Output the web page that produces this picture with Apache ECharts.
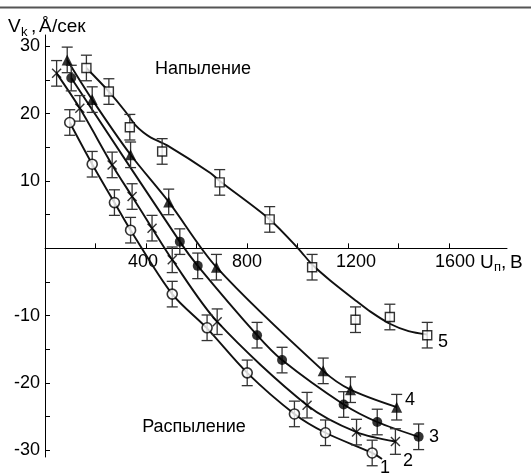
<!DOCTYPE html>
<html>
<head>
<meta charset="utf-8">
<script src="https://cdn.jsdelivr.net/npm/echarts@6/dist/echarts.min.js"></script>
<style>
html,body{margin:0;padding:0;background:#fff}
#main{width:531px;height:475px}
</style>
</head>
<body>
<div id="main"></div>
<script>
// measured points, [U (B), V (A/sec)]
var pts1 = [[98,18.7],[187,12.5],[275,6.8],[339,2.7],[504,-6.8],[642,-11.8],[801,-18.5],[988,-24.6],[1111,-27.4],[1296,-30.4]];
var pts2 = [[46,26.0],[138,20.8],[266,12.4],[345,7.7],[424,3.0],[504,-1.7],[682,-10.9],[1038,-23.3],[1234,-27.3],[1388,-28.7]];
var pts3 = [[104,25.3],[534,1.0],[605,-2.6],[840,-12.9],[939,-16.6],[1183,-23.2],[1316,-25.8],[1480,-28.0]];
var pts4 = [[88,28.0],[187,22.1],[339,13.9],[490,6.9],[679,-2.8],[1102,-18.2],[1210,-21.0],[1393,-23.6]];
var pts5 = [[164,26.8],[253,23.3],[336,18.0],[464,14.4],[692,9.8],[890,4.3],[1058,-2.8],[1230,-10.6],[1366,-10.2],[1514,-12.9]];

// fitted curves
var curve1 = [[98,18.7],[187,12.5],[275,6.8],[339,2.7],[504,-6.8],[642,-11.9],[801,-18.5],[988,-24.6],[1111,-27.4],[1296,-30.4],[1335,-31.3]];
var curve2 = [[46,26.0],[138,20.8],[266,12.4],[345,7.7],[424,3.0],[504,-1.7],[682,-10.9],[1038,-23.3],[1234,-27.3],[1388,-28.7]];
var curve3 = [[104,25.3],[534,1.0],[605,-2.6],[840,-12.9],[939,-16.6],[1183,-23.2],[1316,-25.8],[1480,-28.0]];
var curve4 = [[88,28.0],[187,22.1],[339,13.9],[490,6.9],[679,-2.8],[1102,-18.2],[1210,-21.0],[1393,-23.6]];
var curve5 = [[164,26.8],[253,23.3],[319,20.3],[358,18.3],[390,17.2],[418,16.5],[484,15.3],[655,11.2],[692,10.0],[890,4.3],[1005,-0.1],[1058,-2.4],[1131,-4.8],[1236,-7.9],[1289,-9.4],[1366,-11.2],[1440,-12.3],[1514,-12.8]];

var ERR = 1.9;

var xTicks = [200,400,600,800,1000,1200,1400,1600];
var xLabels = [400,800,1200,1600];
var yTicks = [-30,-25,-20,-15,-10,-5,5,10,15,20,25,30];
var yLabels = [-30,-20,-10,10,20,30];

var FONT = '"Liberation Sans", Arial, sans-serif';

function withErr(p){
    return p.map(function(d){ return [d[0], d[1], ERR]; });
}

function renderBar(params, api){
    var x = api.value(0), y = api.value(1), e = api.value(2);
    var top = api.coord([x, y + e]);
    var bot = api.coord([x, y - e]);
    var w = 5.5;
    var st = {stroke:'#333', lineWidth:1.3};
    return {type:'group', children:[
        {type:'line', shape:{x1:top[0], y1:top[1], x2:bot[0], y2:bot[1]}, style:st},
        {type:'line', shape:{x1:top[0]-w, y1:top[1], x2:top[0]+w, y2:top[1]}, style:st},
        {type:'line', shape:{x1:bot[0]-w, y1:bot[1], x2:bot[0]+w, y2:bot[1]}, style:st}
    ]};
}

function curveSeries(d){
    return {type:'line', data:d, showSymbol:false, smooth:0.3,
        lineStyle:{color:'#111', width:1.9}, silent:true, clip:false, z:2};
}
function barSeries(d){
    return {type:'custom', data:withErr(d), renderItem:renderBar, encode:{x:0, y:1}, silent:true, z:3};
}

var crossPath = 'path://M0,1L1,0L5,4L9,0L10,1L6,5L10,9L9,10L5,6L1,10L0,9L4,5Z';

function txt(x, y, s, size, align, valign){
    return {type:'text', x:x, y:y, silent:true,
        style:{text:s, font:size + 'px ' + FONT, fill:'#000', textAlign:align || 'left', textVerticalAlign:valign || 'bottom'}};
}

var dom = document.getElementById('main');
var myChart = echarts.init(dom);

var option = {
    animation: false,
    backgroundColor: '#fff',
    grid: {left:45, right:24, top:35, bottom:18},
    xAxis: {
        type:'value', min:0, max:1830,
        axisLine:{onZero:true, lineStyle:{color:'#000', width:1}},
        axisTick:{inside:true, length:5, customValues:xTicks, lineStyle:{color:'#000'}},
        axisLabel:{show:false},
        splitLine:{show:false}
    },
    yAxis: {
        type:'value', min:-31, max:31.7,
        axisLine:{show:true, onZero:false, lineStyle:{color:'#000', width:1}},
        axisTick:{show:true, inside:true, length:5, customValues:yTicks, lineStyle:{color:'#000'}},
        axisLabel:{customValues:yLabels, margin:5, fontSize:18, fontFamily:FONT, color:'#000'},
        splitLine:{show:false}
    },
    series: [
        curveSeries(curve1), curveSeries(curve2), curveSeries(curve3), curveSeries(curve4), curveSeries(curve5),
        barSeries(pts1), barSeries(pts2), barSeries(pts3), barSeries(pts4), barSeries(pts5),
        {type:'scatter', data:pts1, symbol:'circle', symbolSize:10, z:4,
            itemStyle:{color:'#fff', borderColor:'#000', borderWidth:1.6}},
        {type:'scatter', data:pts2, symbol:crossPath, symbolSize:10, z:4,
            itemStyle:{color:'#000'}},
        {type:'scatter', data:pts3, symbol:'circle', symbolSize:10, z:4,
            itemStyle:{color:'#000'}},
        {type:'scatter', data:pts4, symbol:'triangle', symbolSize:11, z:4,
            itemStyle:{color:'#000'}},
        {type:'scatter', data:pts5, symbol:'rect', symbolSize:9, z:4,
            itemStyle:{color:'#fff', borderColor:'#000', borderWidth:1.4}}
    ]
};
myChart.setOption(option);

// x tick labels sit just under the zero line
var gfx = [
    {type:'line', shape:{x1:0, y1:7.5, x2:531, y2:7.5}, style:{stroke:'#555', lineWidth:2}},
    txt(8, 36, 'V', 19), txt(21, 39, 'k', 13), txt(31, 36, ',', 19),
    txt(39, 36, 'Å', 19), txt(52, 36, '/сек', 19),
    txt(203, 69, 'Напыление', 18, 'center', 'middle'),
    txt(194, 427, 'Распыление', 18, 'center', 'middle'),
    txt(480, 263, 'U', 19, 'left', 'middle'), txt(494, 267, 'п', 13, 'left', 'middle'),
    txt(501, 263, ',', 19, 'left', 'middle'), txt(510, 263, 'B', 19, 'left', 'middle'),
    txt(385, 468, '1', 18, 'center', 'middle'),
    txt(408, 461, '2', 18, 'center', 'middle'),
    txt(434, 437, '3', 18, 'center', 'middle'),
    txt(410, 400, '4', 18, 'center', 'middle'),
    txt(443, 342, '5', 18, 'center', 'middle')
];
var labelShift = {400:-3, 800:0, 1200:8, 1600:6};
xLabels.forEach(function(v){
    var p = myChart.convertToPixel({gridIndex:0}, [v, 0]);
    gfx.push(txt(p[0] + labelShift[v], p[1] + 14, '' + v, 18, 'center', 'middle'));
});
myChart.setOption({graphic: gfx});
</script>
</body>
</html>
